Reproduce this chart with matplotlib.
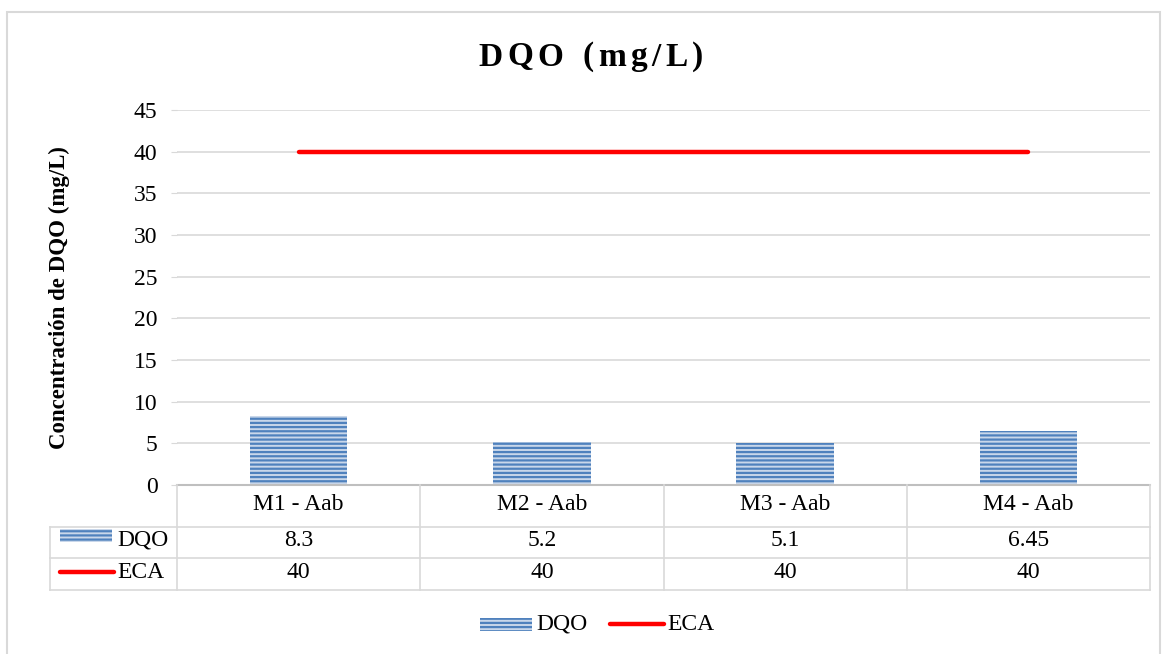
import matplotlib.pyplot as plt
import matplotlib.patches as mpatches
from matplotlib.lines import Line2D
import numpy as np

plt.rcParams['font.family'] = ['Liberation Serif', 'DejaVu Serif']
plt.rcParams['hatch.linewidth'] = 1.6

muestras = ["M1 - Aab", "M2 - Aab", "M3 - Aab", "M4 - Aab"]
dqo = [8.3, 5.2, 5.1, 6.45]
eca = [40, 40, 40, 40]
dqo_txt = ["8.3", "5.2", "5.1", "6.45"]
eca_txt = ["40", "40", "40", "40"]

W, H = 1165, 654
azul = "#4F81BD"
azul_claro = "#C9D7EA"
rojo = "#FF0000"
gris = "#D9D9D9"
fs = 17

fig = plt.figure(figsize=(W / 100, H / 100), dpi=100)

def fx(px):
    return px / W

def fy(py):
    return 1 - py / H

# marco exterior
fig.patches.append(mpatches.Rectangle((fx(7), fy(700)), fx(1160) - fx(7), fy(12) - fy(700),
                                      transform=fig.transFigure, fill=False,
                                      edgecolor=gris, lw=1.5))

x0, x1, ytop, ybot = 177, 1150, 110, 485
ax = fig.add_axes([fx(x0), fy(ybot), fx(x1) - fx(x0), fy(ytop) - fy(ybot)])

x = np.arange(len(muestras))
ax.bar(x, dqo, width=0.4, color=azul_claro, edgecolor=azul, hatch="----", lw=0, zorder=2)
ax.plot(x, eca, color=rojo, lw=3.2, solid_capstyle="round", zorder=3)

ax.set_xlim(-0.5, len(muestras) - 0.5)
ax.set_ylim(0, 45)
ax.set_yticks(np.arange(0, 46, 5))
ax.tick_params(axis="y", length=4, color=gris, labelsize=fs, pad=10)
ax.set_xticks([])
ax.grid(axis="y", color=gris, lw=1.2, zorder=0)
for s in ["top", "right", "left"]:
    ax.spines[s].set_visible(False)
ax.spines["bottom"].set_color("#BFBFBF")
ax.spines["bottom"].set_linewidth(1.5)
ax.set_ylabel("Concentración de DQO (mg/L)", fontsize=16.5, fontweight="bold")
ax.yaxis.set_label_coords(-(x0 - 70) / (x1 - x0), 0.5)

# título con espaciado entre letras
titulo = "DQO (mg/L)"
extra = 4.5
ren = fig.canvas.get_renderer()
anchos = []
for ch in titulo:
    t = fig.text(0, 0, ch, fontsize=24, fontweight="bold")
    anchos.append(t.get_window_extent(ren).width if ch != " " else 10.0)
    t.remove()
total = sum(anchos) + extra * (len(titulo) - 1)
px = 591 - total / 2
for ch, w in zip(titulo, anchos):
    fig.text(fx(px), fy(57), ch, ha="left", va="center", fontsize=24, fontweight="bold")
    px += w + extra

# tabla de datos bajo el eje
filas = [485, 527, 558, 590]
cols = [x0 + (x1 - x0) * i / len(muestras) for i in range(len(muestras) + 1)]
tl = dict(transform=fig.transFigure, color=gris, lw=1.2)
for y in filas[1:]:
    fig.add_artist(Line2D([fx(50), fx(x1)], [fy(y), fy(y)], **tl))
fig.add_artist(Line2D([fx(50), fx(50)], [fy(527), fy(590)], **tl))
for c in cols:
    fig.add_artist(Line2D([fx(c), fx(c)], [fy(485), fy(590)], **tl))

for i, m in enumerate(muestras):
    cx = (cols[i] + cols[i + 1]) / 2
    fig.text(fx(cx), fy(504), m, ha="center", va="center", fontsize=fs)
    fig.text(fx(cx), fy(540), dqo_txt[i], ha="center", va="center", fontsize=fs)
    fig.text(fx(cx), fy(572), eca_txt[i], ha="center", va="center", fontsize=fs)

def muestra_barra(px, py, w=52, h=13):
    fig.patches.append(mpatches.Rectangle((fx(px), fy(py + h / 2)), fx(w), h / H,
                                          transform=fig.transFigure, facecolor=azul_claro,
                                          edgecolor=azul, hatch="----", lw=0))

def muestra_linea(px, py, w=54):
    fig.add_artist(Line2D([fx(px), fx(px + w)], [fy(py), fy(py)], transform=fig.transFigure,
                          color=rojo, lw=3.2, solid_capstyle="round"))

muestra_barra(60, 535)
fig.text(fx(117), fy(540), "DQO", ha="left", va="center", fontsize=fs)
muestra_linea(60, 572)
fig.text(fx(117), fy(572), "ECA", ha="left", va="center", fontsize=fs)

# leyenda inferior
muestra_barra(480, 624)
fig.text(fx(536), fy(624), "DQO", ha="left", va="center", fontsize=fs)
muestra_linea(610, 624)
fig.text(fx(667), fy(624), "ECA", ha="left", va="center", fontsize=fs)

fig.savefig("out.png", dpi=100)
